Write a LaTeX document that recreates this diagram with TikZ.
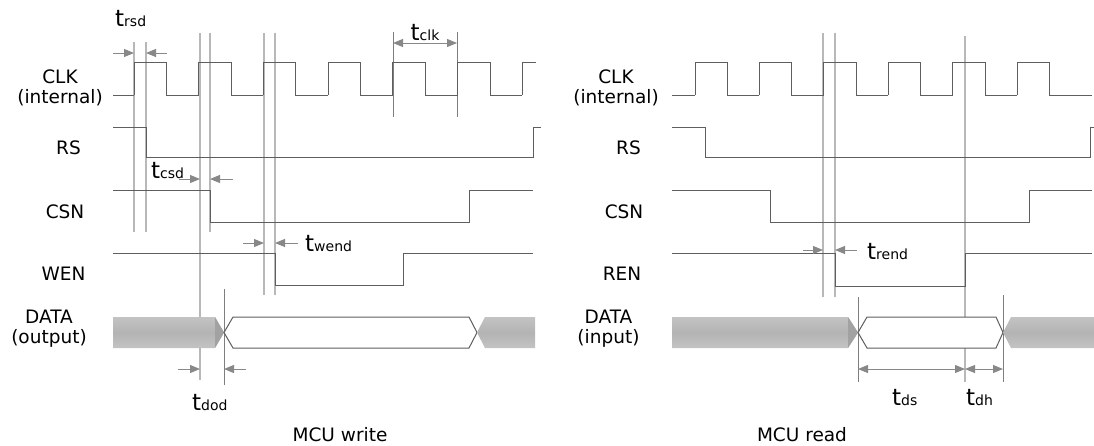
\documentclass[tikz,border=0pt]{standalone}
\usepackage{fontspec}
\setmainfont{DejaVu Sans}
\usepackage{tikz}
\usetikzlibrary{arrows.meta,calc}

\definecolor{sigcol}{HTML}{5E5E5E}
\definecolor{guidecol}{HTML}{B8B8B8}
\definecolor{arrcol}{HTML}{888888}
\definecolor{buscol}{HTML}{B4B4B4}
\definecolor{busdark}{HTML}{A2A2A2}

\newcommand{\tsub}[1]{{\fontsize{23}{23}\selectfont t}{\fontsize{14}{14}\selectfont #1}}

\tikzset{
  sig/.style={draw=sigcol,line width=1pt},
  guide/.style={draw=guidecol,line width=1.5pt},
  tick/.style={draw=sigcol!80,line width=0.9pt},
  dimarr/.style={draw=arrcol,line width=1pt,-{Triangle[length=10pt,width=8pt]}},
  dimboth/.style={draw=arrcol,line width=1pt,{Triangle[length=10pt,width=8pt]}-{Triangle[length=10pt,width=8pt]}},
  bus/.style={shading=axis,top color=buscol!80,bottom color=buscol!80,middle color=buscol},
  sname/.style={align=center,inner sep=0pt,font=\fontsize{18.5}{20}\selectfont,text=black},
  tname/.style={inner sep=0pt,anchor=base west,text=black}
}

\begin{document}
\begin{tikzpicture}
\begin{scope}[x=1pt,y=-1pt]
\useasboundingbox (0,0) rectangle (1094,445);

% Signal names
\node[sname] at(60,88) (clkW) {CLK\\(internal)};
\node[sname] at(68.5,147.5) (rsW) {RS};
\node[sname] at(65,212) (csnW) {CSN};
\node[sname] at(63.5,273.5) (wenW) {WEN};
\node[sname] at(49,329) (dataW) {DATA\\(output)};
\node[sname] at(340,435) (titleW) {MCU write};

\node[sname] at(616,88) (clkR) {CLK\\(internal)};
\node[sname] at(628.5,147.5) (rsR) {RS};
\node[sname] at(624,212) (csnR) {CSN};
\node[sname] at(622,273.5) (renR) {REN};
\node[sname] at(608.5,329) (dataR) {DATA\\(input)};
\node[sname] at(802,435) (titleR) {MCU read};

% Guide lines
\draw[guide] (134,42) -- (134,232);
\draw[guide] (146,42) -- (146,232);
\draw[guide] (200,33) -- (200,380);
\draw[guide] (210,33) -- (210,232);
\draw[guide] (264,33) -- (264,295);
\draw[guide] (275,33) -- (275,295);
\draw[tick] (393,32) -- (393,117);
\draw[tick] (457,32) -- (457,117);
\draw[tick] (224,289) -- (224,385);

\draw[guide] (823,33) -- (823,297);
\draw[guide] (835,33) -- (835,297);
\draw[guide] (965,36) -- (965,382);
\draw[tick] (858,297) -- (858,382);
\draw[tick] (1003,295) -- (1003,382);

% Data buses
\shade[bus] (113,317) -- (215,317) -- (224,332.5) -- (215,348) -- (113,348) -- cycle;
\fill[busdark] (215,317) -- (224,332.5) -- (215,348) -- cycle;
\draw[sig,fill=white] (224,332.5) -- (233,317) -- (469,317) -- (477,332.5) -- (469,348) -- (233,348) -- cycle;
\shade[bus] (477,332.5) -- (485,317) -- (535,317) -- (535,348) -- (485,348) -- cycle;

\shade[bus] (672,317) -- (848,317) -- (858,332.5) -- (848,348) -- (672,348) -- cycle;
\fill[busdark] (848,317) -- (858,332.5) -- (848,348) -- cycle;
\draw[sig,fill=white] (858,332.5) -- (867,317) -- (996,317) -- (1003,332.5) -- (996,348) -- (867,348) -- cycle;
\shade[bus] (1003,332.5) -- (1011,317) -- (1094,317) -- (1094,348) -- (1011,348) -- cycle;

% Clocks
\draw[sig] (113,95) -- (134,95);
\foreach \k in {0,...,5}
  \draw[sig] ({134+64.7*\k},95) -- ++(0,-33) -- ++(32.5,0) -- ++(0,33) -- ++(32.2,0);
\draw[sig] (522.2,95) -- (522.2,62) -- (536,62);

\draw[sig] (672,95) -- (695,95);
\foreach \k in {0,...,5}
  \draw[sig] ({695+64.4*\k},95) -- ++(0,-33) -- ++(32.5,0) -- ++(0,33) -- ++(31.9,0);
\draw[sig] (1081.4,95) -- (1092,95);

% Control lines
\draw[sig] (113,127) -- (146,127) -- (146,157) -- (533,157) -- (533,127) -- (541,127);
\draw[sig] (113,190) -- (210,190) -- (210,222) -- (469,222) -- (469,190) -- (533,190);
\draw[sig] (113,253) -- (275,253) -- (275,285) -- (403,285) -- (403,253) -- (533,253);

\draw[sig] (672,127) -- (705,127) -- (705,157) -- (1090,157) -- (1090,127) -- (1094,127);
\draw[sig] (672,190) -- (770,190) -- (770,222) -- (1029,222) -- (1029,190) -- (1092,190);
\draw[sig] (672,253) -- (835,253) -- (835,286) -- (965,286) -- (965,253) -- (1092,253);

% Timing arrows
\draw[dimarr] (113,53) -- (134,53);
\draw[dimarr] (167,53) -- (146,53);
\draw[dimboth] (393,43) -- (457,43);
\draw[dimarr] (179,179) -- (200,179);
\draw[dimarr] (233,179) -- (210,179);
\draw[dimarr] (243,243) -- (264,243);
\draw[dimarr] (298,243) -- (275,243);
\draw[dimarr] (178,369) -- (200,369);
\draw[dimarr] (246,369) -- (224,369);

\draw[dimarr] (803,250) -- (823,250);
\draw[dimarr] (857,250) -- (835,250);
\draw[dimboth] (858,369) -- (965,369);
\draw[dimboth] (965,369) -- (1003,369);

% Timing labels
\node[tname] at(115,26) (trsd) {\tsub{rsd}};
\node[tname,anchor=base] at(425,40) (tclk) {\tsub{clk}};
\node[tname] at(151,178) (tcsd) {\tsub{csd}};
\node[tname] at(305,251) (twend) {\tsub{wend}};
\node[tname] at(192,410) (tdod) {\tsub{dod}};
\node[tname] at(867,259) (trend) {\tsub{rend}};
\node[tname] at(892,405) (tds) {\tsub{ds}};
\node[tname] at(966,405) (tdh) {\tsub{dh}};

\end{scope}
\end{tikzpicture}
\end{document}
